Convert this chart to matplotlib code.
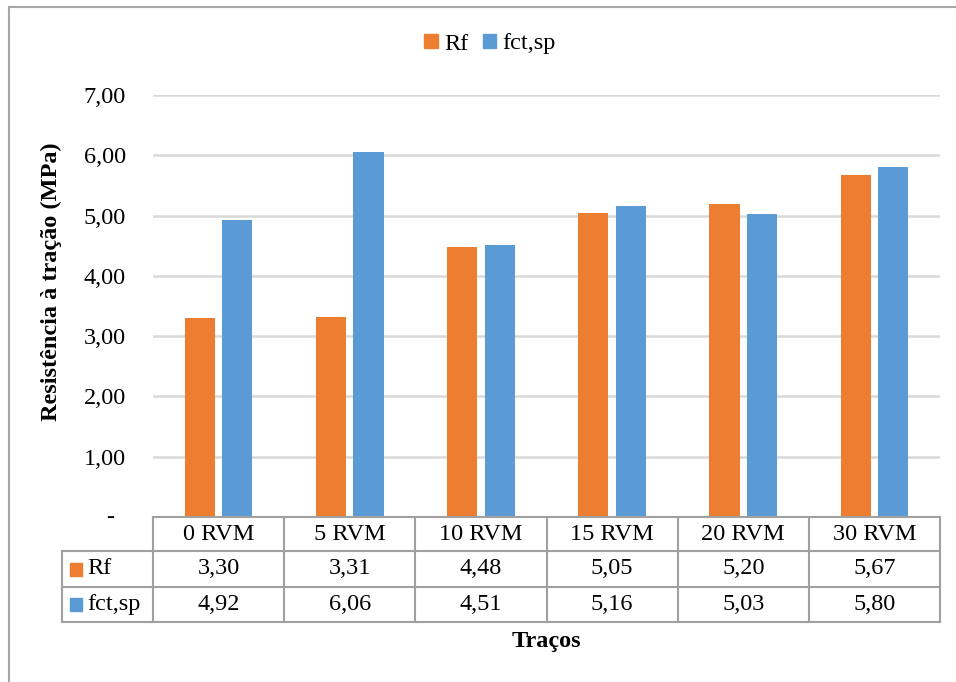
import matplotlib
matplotlib.use("Agg")
import matplotlib.pyplot as plt
from matplotlib.patches import Rectangle
from matplotlib.lines import Line2D

categories = ["0 RVM", "5 RVM", "10 RVM", "15 RVM", "20 RVM", "30 RVM"]
rf_values = [3.30, 3.31, 4.48, 5.05, 5.20, 5.67]
fct_values = [4.92, 6.06, 4.51, 5.16, 5.03, 5.80]
series_names = ["Rf", "fct,sp"]
yticks = [0, 1, 2, 3, 4, 5, 6, 7]
ytick_labels = ["", "1,00", "2,00", "3,00", "4,00", "5,00", "6,00", "7,00"]
zero_label = "-"

ORANGE = "#ED7D31"
BLUE = "#5B9BD5"
GRID = "#D9D9D9"
TLINE = "#A0A0A0"
FS = 17.5

plt.rcParams["font.family"] = ["Liberation Serif", "DejaVu Serif"]

W, H = 956, 682
fig = plt.figure(figsize=(W / 100, H / 100), dpi=100)

# outer chart border
fig.add_artist(Line2D([9 / W, 9 / W], [0, 1 - 7 / H], color="#A6A6A6", lw=1.5, transform=fig.transFigure))
fig.add_artist(Line2D([9 / W, 1], [1 - 7 / H, 1 - 7 / H], color="#A6A6A6", lw=1.5, transform=fig.transFigure))

x0, x1 = 153, 940
y_top, y_bot = 95, 517
ax = fig.add_axes([x0 / W, 1 - y_bot / H, (x1 - x0) / W, (y_bot - y_top) / H])

n = len(categories)
xs = list(range(n))
bw = 0.23
off = 0.143
ax.bar([x - off for x in xs], rf_values, width=bw, color=ORANGE, zorder=3)
ax.bar([x + off for x in xs], fct_values, width=bw, color=BLUE, zorder=3)

ax.set_xlim(-0.5, n - 0.5)
ax.set_ylim(0, 7)
ax.set_yticks(yticks)
ax.set_yticklabels(ytick_labels, fontsize=FS)
ax.set_xticks([])
ax.tick_params(axis="y", length=0, pad=19.5)
for t in yticks[1:]:
    ax.axhline(t, color=GRID, lw=1.8, zorder=1)
for s in ax.spines.values():
    s.set_visible(False)

ax.text((110 - x0) / (x1 - x0), 0, zero_label, transform=ax.transAxes, ha="center",
        va="center", fontsize=FS)

ax.set_ylabel("Resistência à tração (MPa)", fontsize=FS, fontweight="bold")
ax.yaxis.set_label_coords((62 - x0) / (x1 - x0), (y_bot - 282) / (y_bot - y_top))

# data table
row_px = [0, 34, 70, 105]
hgt = y_bot - y_top
ry = [-p / hgt for p in row_px]
cw = (x1 - x0) / n
left_x = -0.5 - (x0 - 62) / cw
tr = ax.get_xaxis_transform()
lkw = dict(color=TLINE, lw=1.5, transform=tr, clip_on=False, zorder=5)

ax.add_line(Line2D([-0.5, n - 0.5], [ry[0], ry[0]], **lkw))
for yv in ry[1:]:
    ax.add_line(Line2D([left_x, n - 0.5], [yv, yv], **lkw))
for i in range(n + 1):
    ax.add_line(Line2D([i - 0.5, i - 0.5], [ry[0], ry[3]], **lkw))
ax.add_line(Line2D([left_x, left_x], [ry[1], ry[3]], **lkw))

for i, c in enumerate(categories):
    ax.text(i, (ry[0] + ry[1]) / 2, c, transform=tr, ha="center", va="center", fontsize=FS)
    ax.text(i, (ry[1] + ry[2]) / 2, f"{rf_values[i]:.2f}".replace(".", ","), transform=tr,
            ha="center", va="center", fontsize=FS)
    ax.text(i, (ry[2] + ry[3]) / 2, f"{fct_values[i]:.2f}".replace(".", ","), transform=tr,
            ha="center", va="center", fontsize=FS)

# row headers with colour keys
sq_w = 12 / cw
sq_h = 13 / hgt
for r, (name, col) in enumerate(zip(series_names, [ORANGE, BLUE])):
    yc = (ry[r + 1] + ry[r + 2]) / 2
    ax.add_patch(Rectangle((left_x + 8 / cw, yc - sq_h / 2), sq_w, sq_h, color=col,
                           transform=tr, clip_on=False))
    ax.text(left_x + 25 / cw, yc, name, transform=tr, ha="left", va="center", fontsize=FS)

fig.text((x0 + x1) / 2 / W, 1 - 641 / H, "Traços", ha="center", va="center",
         fontsize=FS, fontweight="bold")

# legend
handles = [Rectangle((0, 0), 1, 1, color=ORANGE), Rectangle((0, 0), 1, 1, color=BLUE)]
fig.legend(handles, series_names, loc="center", bbox_to_anchor=(490 / W, 1 - 44 / H),
           ncol=2, frameon=False, fontsize=FS, handlelength=0.55, handleheight=0.55,
           handletextpad=0.25, columnspacing=0.6)

fig.savefig("out.png", dpi=100)
